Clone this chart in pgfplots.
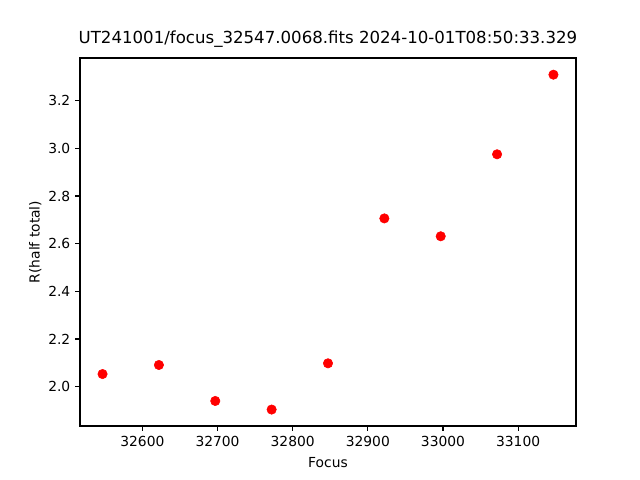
\documentclass[border=0pt]{standalone}
\usepackage{pgfplots}
\pgfplotsset{compat=1.18}
\usepackage{fontspec}
\setmainfont{DejaVu Sans}
\begin{document}
\begin{tikzpicture}
\useasboundingbox (-0.8in,-0.54in) rectangle (5.6in,4.26in);
\begin{axis}[
  at={(0,0)}, anchor=south west,
  width=4.96in, height=3.68in, scale only axis,
  xmin=32517, xmax=33177, ymin=1.835, ymax=3.379,
  xtick={32600,32700,32800,32900,33000,33100},
  ytick={2.0,2.2,2.4,2.6,2.8,3.0,3.2},
  tick align=outside, tick pos=left,
  major tick length=3.5pt,
  every tick/.style={black, line width=0.8pt},
  axis line style={line width=0.8pt},
  /pgf/number format/assume math mode=true,
  xticklabel style={font=\fontsize{10}{12}\selectfont, /pgf/number format/1000 sep={}},
  yticklabel style={font=\fontsize{10}{12}\selectfont, /pgf/number format/fixed, /pgf/number format/precision=1, /pgf/number format/fixed zerofill},
  scaled x ticks=false,
  xlabel={Focus}, ylabel={R(half total)},
  label style={font=\fontsize{10}{12}\selectfont},
  xlabel style={yshift=-1pt},
  ylabel style={yshift=-2pt},
  title={UT241001/focus\_32547.0068.fits 2024-10-01T08:50:33.329},
  title style={font=\fontsize{12}{14}\selectfont, yshift=-2pt},
]
\addplot[only marks, mark=*, mark size=3.4pt, color=red, mark options={fill=red, draw=red}] coordinates {
(32547,2.053) (32622,2.091) (32697,1.940) (32772,1.904) (32847,2.098)
(32922,2.706) (32997,2.631) (33072,2.975) (33147,3.309)
};
\end{axis}
\end{tikzpicture}
\end{document}
